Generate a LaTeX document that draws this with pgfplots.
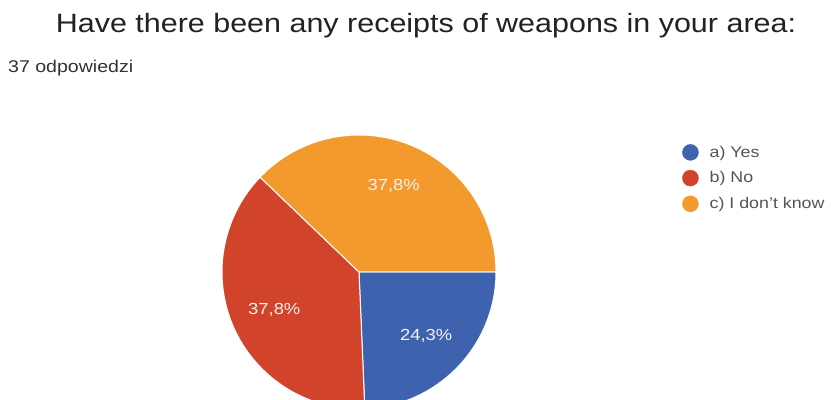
\documentclass[border=0pt]{standalone}
\usepackage{pgfplots}
\pgfplotsset{compat=1.18}
\usepackage{pgfplotstable}
\usepackage{fontspec}
\setmainfont{Liberation Sans}[FakeStretch=1.15]
\definecolor{cYes}{HTML}{3F62AF}
\definecolor{cNo}{HTML}{D1432A}
\definecolor{cDk}{HTML}{F29A2E}
\definecolor{titlec}{HTML}{222222}
\definecolor{subc}{HTML}{333333}
\definecolor{legc}{HTML}{555555}
\pgfplotstableread{
count
9
14
14
}\piedata
\pgfplotstablegetelem{0}{count}\of\piedata \let\nA\pgfplotsretval
\pgfplotstablegetelem{1}{count}\of\piedata \let\nB\pgfplotsretval
\pgfplotstablegetelem{2}{count}\of\piedata \let\nC\pgfplotsretval
\pgfmathsetmacro\tot{\nA+\nB+\nC}
\pgfmathsetmacro\aA{-360*\nA/\tot}
\pgfmathsetmacro\aB{\aA-360*\nB/\tot}
\pgfmathsetmacro\mA{\aA/2}
\pgfmathsetmacro\mB{(\aA+\aB)/2}
\pgfmathsetmacro\mC{(\aB-360)/2}
\pgfmathsetmacro\pA{100*\nA/\tot}
\pgfmathsetmacro\pB{100*\nB/\tot}
\pgfmathsetmacro\pC{100*\nC/\tot}
\begin{document}%
\begin{tikzpicture}
\useasboundingbox (0bp,0bp) rectangle (831bp,400bp);
\fill[white] (0bp,0bp) rectangle (831bp,400bp);
\clip (0bp,0bp) rectangle (831bp,400bp);
\node[anchor=base, font=\fontsize{26.5bp}{30bp}\selectfont, text=titlec, inner sep=0] at (426bp,367bp) {Have there been any receipts of weapons in your area:};
\node[anchor=base west, font=\fontsize{17bp}{20bp}\selectfont, text=subc, inner sep=0] at (8bp,327bp) {37 odpowiedzi};
\begin{axis}[
  at={(222bp,-9bp)}, anchor=south west,
  scale only axis, width=274bp, height=274bp,
  xmin=-1, xmax=1, ymin=-1, ymax=1,
  hide axis, clip=false,
  legend style={at={(1.668,0.975)}, anchor=north west, draw=none, fill=none,
    font=\fontsize{15.5bp}{18bp}\selectfont, text=legc, row sep=9bp,
    column sep=9bp, legend cell align=left},
]
\addlegendimage{legend image code/.code={\fill[cYes] (0bp,0bp) circle (8bp);}}
\addlegendentry{a) Yes}
\addlegendimage{legend image code/.code={\fill[cNo] (0bp,0bp) circle (8bp);}}
\addlegendentry{b) No}
\addlegendimage{legend image code/.code={\fill[cDk] (0bp,0bp) circle (8bp);}}
\addlegendentry{c) I don't know}
\fill[cYes, draw=white, line width=1bp] (axis cs:0,0) -- ++(0:137bp) arc[start angle=0, end angle=\aA, radius=137bp] -- cycle;
\fill[cNo, draw=white, line width=1bp] (axis cs:0,0) -- ++(\aA:137bp) arc[start angle=\aA, end angle=\aB, radius=137bp] -- cycle;
\fill[cDk, draw=white, line width=1bp] (axis cs:0,0) -- ++(\aB:137bp) arc[start angle=\aB, end angle=-360, radius=137bp] -- cycle;
\path (axis cs:0,0) ++(\mA:93bp) node[text=white!95!black, font=\fontsize{16bp}{19bp}\selectfont] {\pgfmathprintnumber[fixed,fixed zerofill,precision=1,use comma,assume math mode=true]{\pA}\%};
\path (axis cs:0,0) ++(\mB:93bp) node[text=white!95!black, font=\fontsize{16bp}{19bp}\selectfont] {\pgfmathprintnumber[fixed,fixed zerofill,precision=1,use comma,assume math mode=true]{\pB}\%};
\path (axis cs:0,0) ++(\mC:93bp) node[text=white!95!black, font=\fontsize{16bp}{19bp}\selectfont] {\pgfmathprintnumber[fixed,fixed zerofill,precision=1,use comma,assume math mode=true]{\pC}\%};
\end{axis}
\end{tikzpicture}%
\end{document}
